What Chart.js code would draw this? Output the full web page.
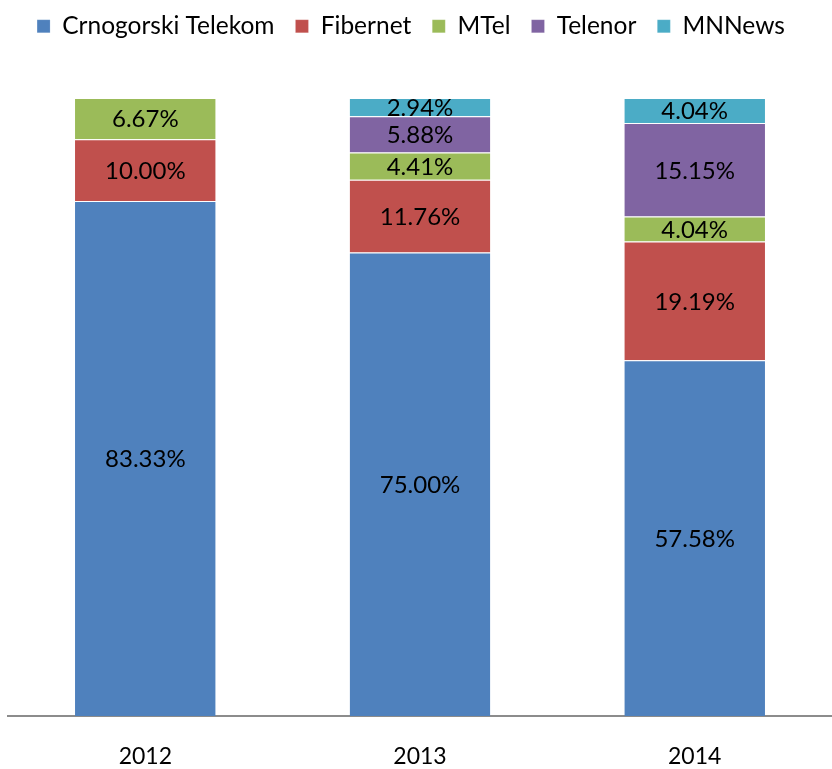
<!DOCTYPE html>
<html>
<head>
<meta charset="utf-8">
<script src="https://cdn.jsdelivr.net/npm/chart.js@4.4.1/dist/chart.umd.min.js"></script>
<style>
  html, body { margin: 0; padding: 0; background: #fff; }
  #wrap { width: 832px; height: 769px; position: relative; }
</style>
</head>
<body>
<div id="wrap"><canvas id="canvas"></canvas></div>
<script>
  const years = ["2012", "2013", "2014"];

  const crnogorski = [83.33, 75.00, 57.58];
  const fibernet = [10.00, 11.76, 19.19];
  const mtel = [6.67, 4.41, 4.04];
  const telenor = [0, 5.88, 15.15];
  const mnnews = [0, 2.94, 4.04];

  const colors = {
    blue: "#4F81BD",
    red: "#C0504D",
    green: "#9BBB59",
    purple: "#8064A2",
    cyan: "#4BACC6"
  };

  const fontFamily = "Lato, 'Open Sans', sans-serif";

  // draw the percentage inside each segment (no datalabels plugin available)
  const segmentLabels = {
    id: "segmentLabels",
    afterDatasetsDraw(chart) {
      const ctx = chart.ctx;
      ctx.save();
      ctx.font = "24px " + fontFamily;
      ctx.fillStyle = "#000";
      ctx.textAlign = "center";
      ctx.textBaseline = "middle";
      chart.data.datasets.forEach((ds, i) => {
        const meta = chart.getDatasetMeta(i);
        meta.data.forEach((bar, j) => {
          const v = ds.data[j];
          if (!v) return;
          const y = (bar.y + bar.base) / 2;
          ctx.fillText(v.toFixed(2) + "%", bar.x, y + 1);
        });
      });
      ctx.restore();
    }
  };

  // make the legend block taller so the bars start lower, like the original
  const legendSpace = {
    id: "legendSpace",
    beforeInit(chart) {
      const origFit = chart.legend.fit;
      chart.legend.fit = function () {
        origFit.bind(chart.legend)();
        this.height = 98;
      };
    },
    afterLayout(chart) {
      // nudge the legend a little up and left
      chart.legend.left -= 9;
      chart.legend.right -= 9;
      chart.legend.top -= 7;
    }
  };

  function makeSet(label, data, color) {
    return {
      label: label,
      data: data,
      backgroundColor: color,
      borderColor: "rgba(255,255,255,0.6)",
      borderWidth: { top: 1, bottom: 0, left: 0, right: 0 },
      borderSkipped: false,
      categoryPercentage: 1,
      barPercentage: 0.512
    };
  }

  const ctx = document.getElementById("canvas").getContext("2d");

  window.onload = function () {
    window.myBar = new Chart(ctx, {
      type: "bar",
      data: {
        labels: years,
        datasets: [
          makeSet("Crnogorski Telekom", crnogorski, colors.blue),
          makeSet("Fibernet", fibernet, colors.red),
          makeSet("MTel", mtel, colors.green),
          makeSet("Telenor", telenor, colors.purple),
          makeSet("MNNews", mnnews, colors.cyan)
        ]
      },
      options: {
        responsive: true,
        maintainAspectRatio: false,
        animation: false,
        layout: {
          padding: { left: 8, right: 0, top: 0, bottom: 0 }
        },
        scales: {
          x: {
            stacked: true,
            grid: { display: false, drawTicks: false },
            border: { display: true, color: "#8c8c8c", width: 2 },
            afterFit(axis) {
              axis.height = 53;
            },
            ticks: {
              color: "#000",
              padding: 27,
              font: { family: fontFamily, size: 23 }
            }
          },
          y: {
            stacked: true,
            min: 0,
            max: 100,
            display: false
          }
        },
        plugins: {
          legend: {
            position: "top",
            labels: {
              color: "#000",
              boxWidth: 13,
              boxHeight: 13,
              padding: 21,
              font: { family: fontFamily, size: 24.5 }
            }
          },
          tooltip: { enabled: false }
        }
      },
      plugins: [segmentLabels, legendSpace]
    });
  };
</script>
</body>
</html>
